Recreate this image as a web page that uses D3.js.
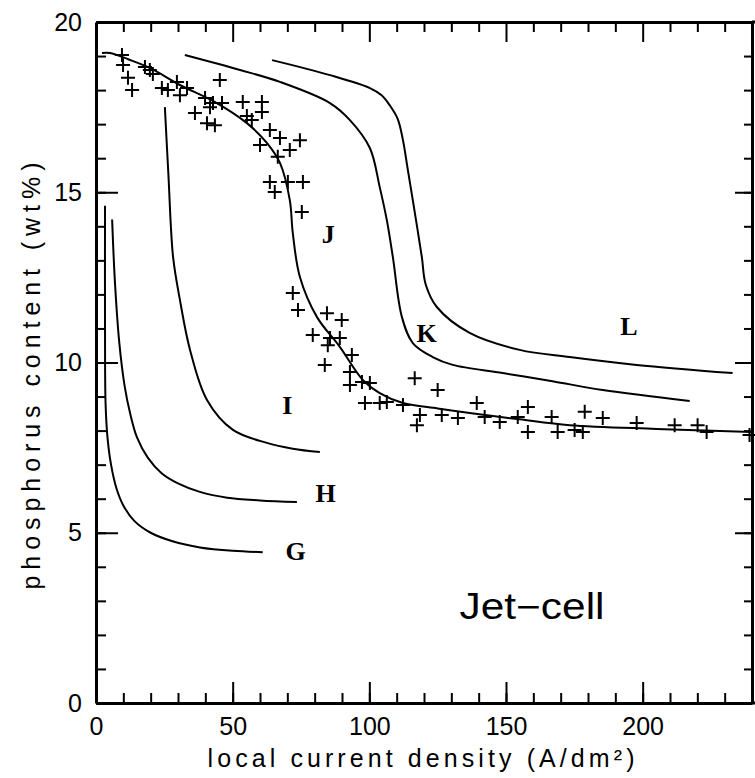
<!DOCTYPE html>
<html>
<head>
<meta charset="utf-8">
<script src="https://cdn.jsdelivr.net/npm/d3@7"></script>
<style>
  body { margin: 0; background: #fff; }
  svg { display: block; }
</style>
</head>
<body>
<svg width="755" height="778"></svg>
<script>
// model curves, [current density, P wt%]
const curveG = [[3.3,14.6],[3.3,11],[3.5,8.8],[4.2,7.8],[5.5,7.0],[7.5,6.3],[10,5.8],[14,5.35],[20,5.0],[28,4.75],[38,4.57],[50,4.47],[61,4.43]];
const curveH = [[5.9,14.2],[6.9,12.4],[8.5,10.6],[10.5,9.3],[12.5,8.5],[15,7.8],[19,7.2],[24,6.75],[30,6.45],[38,6.2],[48,6.03],[60,5.95],[73.5,5.9]];
const curveI = [[25.2,17.5],[26.5,15.5],[28.2,13.1],[30.7,11.84],[34.4,10.37],[40.6,8.9],[50.1,8.02],[62.5,7.64],[72,7.47],[81.9,7.37]];
const curveJ = [[2.2,19.09],[5.1,19.09],[12,18.9],[19.7,18.65],[30.7,18.15],[44.2,17.62],[55.2,17.03],[62.5,16.45],[67.3,15.86],[70.9,14.77],[72,13.8],[74.6,12.51],[80.8,11.34],[89.2,10.46],[97.6,9.49],[103.8,9.1],[112.3,8.81],[125,8.65],[136.7,8.52],[155,8.33],[173.3,8.16],[205,8.05],[240,7.96]];
const curveK = [[32.5,19.03],[52.7,18.59],[67.3,18.24],[85.6,17.62],[92.9,17.12],[100.2,16.3],[103.8,15.15],[106.4,14.18],[108.6,13.1],[111.9,11.34],[115.9,10.57],[123.2,10.16],[130.5,9.93],[148.8,9.69],[167,9.45],[185.4,9.19],[217.2,8.87]];
const curveL = [[64.4,18.88],[85.6,18.44],[100.2,18.06],[104.5,17.85],[107.5,17.55],[110.4,17.15],[112.3,16.53],[114,15.7],[115.9,14.77],[119.2,13.1],[120.6,12.3],[124.7,11.63],[136.7,10.87],[155,10.37],[173.3,10.16],[197.8,9.93],[232.9,9.69]];

// measured points
const measX = [9.5,9.9,11.7,13.2,17.9,19.7,20.8,24.1,26.3,29.6,30.7,33.3,36.2,39.9,40.6,42.8,45.3,41.7,43.5,46.1,53.7,60.7,60.7,57.0,63.6,67.3,74.6,60.0,70.9,66.5,63.6,65.4,70.2,75.7,75.3,72.0,73.9,84.5,89.9,79.3,85.6,89.2,84.8,93.6,83.7,92.9,92.9,97.3,100.2,98.4,103.8,106.4,112.3,116.6,125.0,139.3,158.0,118.5,117.4,126.5,132.4,142.2,147.7,154.3,158.0,166.7,168.9,175.1,178.1,178.8,185.4,197.8,211.7,220.1,223.4,239.1,55.2];
const measY = [19.03,18.74,18.36,18.0,18.68,18.59,18.47,18.06,18.0,18.24,17.85,18.06,17.33,17.77,17.03,17.62,18.3,17.5,16.97,17.62,17.65,17.65,17.36,17.12,16.83,16.59,16.53,16.39,16.24,16.04,15.3,15.01,15.3,15.3,14.42,12.04,11.54,11.45,11.25,10.81,10.72,10.72,10.51,10.22,9.93,9.72,9.34,9.43,9.4,8.81,8.81,8.84,8.75,9.54,9.19,8.81,8.69,8.46,8.16,8.46,8.37,8.4,8.25,8.4,7.96,8.4,7.96,8.02,7.96,8.55,8.37,8.22,8.16,8.16,7.96,7.87,17.24];

// curve labels
const labelText = ["G","H","I","J","K","L"];
const labelX = [73,84,70,85,121,195];
const labelY = [4.2,5.9,8.5,13.5,10.6,10.8];

const xMajor = [0,50,100,150,200];
const yMajor = [0,5,10,15,20];

const svg = d3.select("svg");
const x = d3.scaleLinear().domain([0,240]).range([96,752]);
const y = d3.scaleLinear().domain([0,20]).range([703,22]);

const sans = "'Liberation Sans', Arial, sans-serif";

function styleAxis(g, w) {
  g.select(".domain").attr("stroke", "#000").attr("stroke-width", w);
  g.selectAll(".tick line").attr("stroke", "#000").attr("stroke-width", 2);
}

// bottom
svg.append("g").attr("transform", `translate(0,${y(0)})`)
  .call(d3.axisBottom(x).tickValues(d3.range(0,241,10)).tickSize(-10).tickFormat("").tickSizeOuter(0))
  .call(g => styleAxis(g, 3));
svg.append("g").attr("transform", `translate(0,${y(0)})`)
  .call(d3.axisBottom(x).tickValues(xMajor).tickSize(-21).tickPadding(14).tickSizeOuter(0))
  .call(g => { styleAxis(g, 3); g.select(".domain").remove(); })
  .call(g => g.selectAll("text").attr("font-family", sans).attr("font-size", 25).attr("fill", "#000"))
  .call(g => g.selectAll(".tick text").attr("y", 14));

// top
svg.append("g").attr("transform", `translate(0,${y(20)})`)
  .call(d3.axisTop(x).tickValues(d3.range(0,241,10).filter(v => v % 50)).tickSize(-10).tickFormat("").tickSizeOuter(0))
  .call(g => styleAxis(g, 3));
svg.append("g").attr("transform", `translate(0,${y(20)})`)
  .call(d3.axisTop(x).tickValues(xMajor.slice(1)).tickSize(-20).tickFormat("").tickSizeOuter(0))
  .call(g => { styleAxis(g, 3); g.select(".domain").remove(); });

// left
svg.append("g").attr("transform", `translate(${x(0)},0)`)
  .call(d3.axisLeft(y).tickValues(d3.range(0,21,1)).tickSize(-10).tickFormat("").tickSizeOuter(0))
  .call(g => styleAxis(g, 3));
svg.append("g").attr("transform", `translate(${x(0)},0)`)
  .call(d3.axisLeft(y).tickValues(yMajor).tickSize(-22).tickPadding(14).tickSizeOuter(0))
  .call(g => { styleAxis(g, 3); g.select(".domain").remove(); })
  .call(g => g.selectAll("text").attr("font-family", sans).attr("font-size", 25).attr("fill", "#000"));

// right
svg.append("g").attr("transform", `translate(${x(240)},0)`)
  .call(d3.axisRight(y).tickValues(d3.range(0,21,1)).tickSize(-8).tickFormat("").tickSizeOuter(0))
  .call(g => styleAxis(g, 3));
svg.append("g").attr("transform", `translate(${x(240)},0)`)
  .call(d3.axisRight(y).tickValues(yMajor).tickSize(-17).tickFormat("").tickSizeOuter(0))
  .call(g => { styleAxis(g, 3); g.select(".domain").remove(); });

// frame extension at the right edge
svg.append("line").attr("x1", x(240)).attr("x2", 755).attr("y1", y(20)).attr("y2", y(20))
  .attr("stroke", "#000").attr("stroke-width", 3);
svg.append("line").attr("x1", x(240)).attr("x2", 755).attr("y1", y(0)).attr("y2", y(0))
  .attr("stroke", "#000").attr("stroke-width", 3);

// model curves
const line = d3.line().x(d => x(d[0])).y(d => y(d[1])).curve(d3.curveCatmullRom.alpha(0.5));
svg.append("g")
  .attr("fill", "none").attr("stroke", "#000").attr("stroke-width", 2)
  .selectAll("path")
  .data([curveG, curveH, curveI, curveJ, curveK, curveL])
  .join("path")
  .attr("d", line);

// crosses
svg.append("g")
  .attr("stroke", "#000").attr("stroke-width", 2).attr("fill", "none")
  .selectAll("path")
  .data(measX.map((v, i) => [v, measY[i]]))
  .join("path")
  .attr("d", d => `M${x(d[0]) - 7},${y(d[1])}h14M${x(d[0])},${y(d[1]) - 7}v14`);

// curve letters
svg.append("g")
  .attr("font-family", "'Liberation Serif', 'Times New Roman', serif")
  .attr("font-weight", "bold").attr("font-size", 26).attr("text-anchor", "middle")
  .selectAll("text")
  .data(labelText)
  .join("text")
  .attr("x", (d, i) => x(labelX[i]))
  .attr("y", (d, i) => y(labelY[i]))
  .text(d => d);

svg.append("text")
  .attr("x", 532).attr("y", 619)
  .attr("font-family", sans).attr("font-size", 36)
  .attr("text-anchor", "middle")
  .attr("textLength", 145).attr("lengthAdjust", "spacingAndGlyphs")
  .text("Jet\u2212cell");

// axis titles
svg.append("text")
  .attr("x", 421).attr("y", 767)
  .attr("font-family", sans).attr("font-size", 25)
  .attr("text-anchor", "middle")
  .attr("textLength", 427).attr("lengthAdjust", "spacing")
  .text("local current density (A/dm\u00B2)");

svg.append("text")
  .attr("transform", "translate(40,376) rotate(-90)")
  .attr("font-family", sans).attr("font-size", 25)
  .attr("text-anchor", "middle")
  .attr("textLength", 427).attr("lengthAdjust", "spacing")
  .text("phosphorus   content   (wt%)");
</script>
</body>
</html>
